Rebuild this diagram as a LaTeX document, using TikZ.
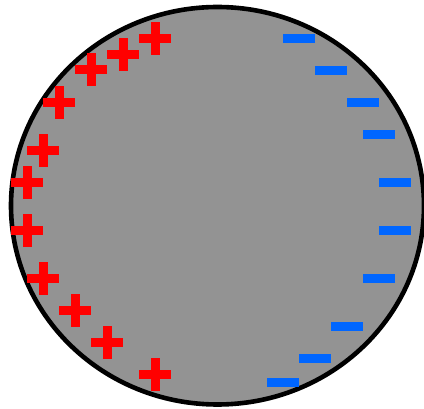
\documentclass[tikz,border=0pt]{standalone}
\begin{document}
\begin{tikzpicture}[x=1pt,y=-1pt,
  body/.style={fill={rgb,255:red,147;green,147;blue,147},draw=black,line width=4.6pt},
  plusbar/.style={fill={rgb,255:red,255;green,0;blue,0}},
  minusbar/.style={fill={rgb,255:red,0;green,102;blue,255}}]
\useasboundingbox (0,0) rectangle (424,409);
\begin{scope}
\clip (0,0) rectangle (424,409);
\draw[body] (217.5,205.75) ellipse [x radius=206.5, y radius=198.75];
\end{scope}
\foreach \cx/\cy in {155/38.5,123/54.5,91/69.5,59/102.5,43/150.5,27/182.5,27/230.5,43/278.5,75/310.5,107/342.5,155/374.5}{
  \fill[plusbar] (\cx-16,\cy-4.5) rectangle (\cx+16,\cy+4.5);
  \fill[plusbar] (\cx-4.5,\cy-16.5) rectangle (\cx+4.5,\cy+16.5);
}
\foreach \cx/\cy in {299/38.5,331/70.5,363/102.5,379/134.5,395/182.5,395/230.5,379/278.5,347/326.5,315/358.5,283/382.5}{
  \fill[minusbar] (\cx-16,\cy-4.5) rectangle (\cx+16,\cy+4.5);
}
\end{tikzpicture}
\end{document}
